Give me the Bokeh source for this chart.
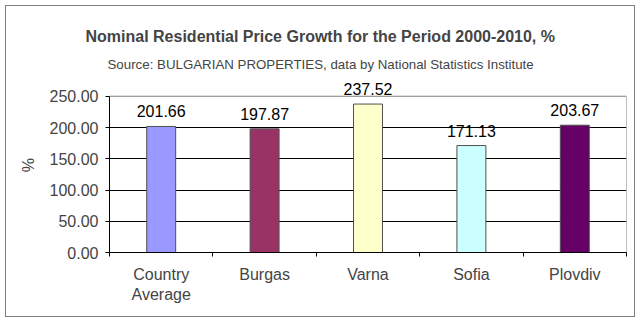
import numpy as np
from bokeh.plotting import figure
from bokeh.core.properties import value
from bokeh.models import (ColumnDataSource, FixedTicker, LinearAxis, Range1d,
                          Title, LabelSet, Grid, NumeralTickFormatter, InlineStyleSheet)
from bokeh.embed import file_html
from bokeh.resources import INLINE

categories = ["Country Average", "Burgas", "Varna", "Sofia", "Plovdiv"]
category_labels = ["Country\nAverage", "Burgas", "Varna", "Sofia", "Plovdiv"]
values = [201.66, 197.87, 237.52, 171.13, 203.67]
colors = ["#9999FF", "#993366", "#FFFFCC", "#CCFFFF", "#660066"]
y_ticks = [0, 50, 100, 150, 200, 250]
y_view_max = 280  # headroom for the value labels

FONT = "Liberation Sans"
n = len(categories)

x_pos = np.arange(n) + 0.5
src = ColumnDataSource(dict(
    x=x_pos, top=values, color=colors,
    label=["%.2f" % v for v in values],
))

css = InlineStyleSheet(css="""
:host { position: relative; }
:host::after {
  content: ""; position: absolute; left: 5px; top: 5px; right: 5px; bottom: 4px;
  border: 1px solid #808080; pointer-events: none; z-index: 100;
}
""")

p = figure(width=640, height=321, output_backend="svg", toolbar_location=None,
           x_range=Range1d(0, n), y_range=Range1d(0, y_view_max),
           x_axis_type=None, y_axis_type=None,
           min_border_left=109, min_border_right=14, min_border_top=77,
           min_border_bottom=69, stylesheets=[css])
p.title = None
p.background_fill_color = "white"
p.border_fill_color = "white"
p.outline_line_color = None

p.vbar(x="x", top="top", bottom=0, width=0.28, fill_color="color",
       line_color="#505050", line_width=1, source=src)

# plot-area border (top and right), up to the last tick
p.segment(x0=[0, n], y0=[y_ticks[-1], 0], x1=[n, n], y1=[y_ticks[-1], y_ticks[-1]],
          line_color="#808080", line_width=1)

# y axis
yaxis = LinearAxis(ticker=FixedTicker(ticks=y_ticks),
                   formatter=NumeralTickFormatter(format="0.00"),
                   bounds=(y_ticks[0], y_ticks[-1]))
yaxis.axis_label = "%"
yaxis.axis_label_text_font = FONT
yaxis.axis_label_text_font_size = "16px"
yaxis.axis_label_text_font_style = "normal"
yaxis.axis_label_standoff = 10
yaxis.major_label_text_font = FONT
yaxis.major_label_text_font_size = "16px"
yaxis.major_label_standoff = 7
yaxis.major_tick_out = 4
yaxis.major_tick_in = 0
yaxis.minor_tick_line_color = None
yaxis.axis_line_color = "black"
yaxis.major_tick_line_color = "black"
p.add_layout(yaxis, "left")

# x axis
xaxis = LinearAxis(ticker=FixedTicker(ticks=list(x_pos),
                                      minor_ticks=list(range(n + 1))))
xaxis.major_label_overrides = {float(x): lab for x, lab in zip(x_pos, category_labels)}
xaxis.major_label_text_font = FONT
xaxis.major_label_text_font_size = "16px"
xaxis.major_label_standoff = 9
xaxis.major_tick_line_color = None
xaxis.major_tick_out = 0
xaxis.major_tick_in = 0
xaxis.minor_tick_out = 4
xaxis.minor_tick_in = 0
xaxis.minor_tick_line_color = "black"
xaxis.axis_line_color = "black"
p.add_layout(xaxis, "below")

grid = Grid(dimension=1, ticker=FixedTicker(ticks=y_ticks[1:-1]),
            grid_line_color="black", grid_line_width=1)
p.add_layout(grid)

labels = LabelSet(x="x", y="top", text="label", source=src, text_align="center",
                  text_baseline="bottom", y_offset=9, text_font=value(FONT),
                  text_font_size="16px", text_color="black")
p.add_layout(labels)

sub = Title(text="Source: BULGARIAN PROPERTIES, data by National Statistics Institute",
            align="left", offset=-2, text_font=FONT, text_font_size="13.3px",
            text_font_style="normal", standoff=11)
main = Title(text="Nominal Residential Price Growth for the Period 2000-2010, %",
             align="left", offset=-24, text_font=FONT, text_font_size="16px",
             text_font_style="bold", standoff=10)
p.add_layout(sub, "above")
p.add_layout(main, "above")

open("out.html", "w").write(file_html(p, INLINE))
